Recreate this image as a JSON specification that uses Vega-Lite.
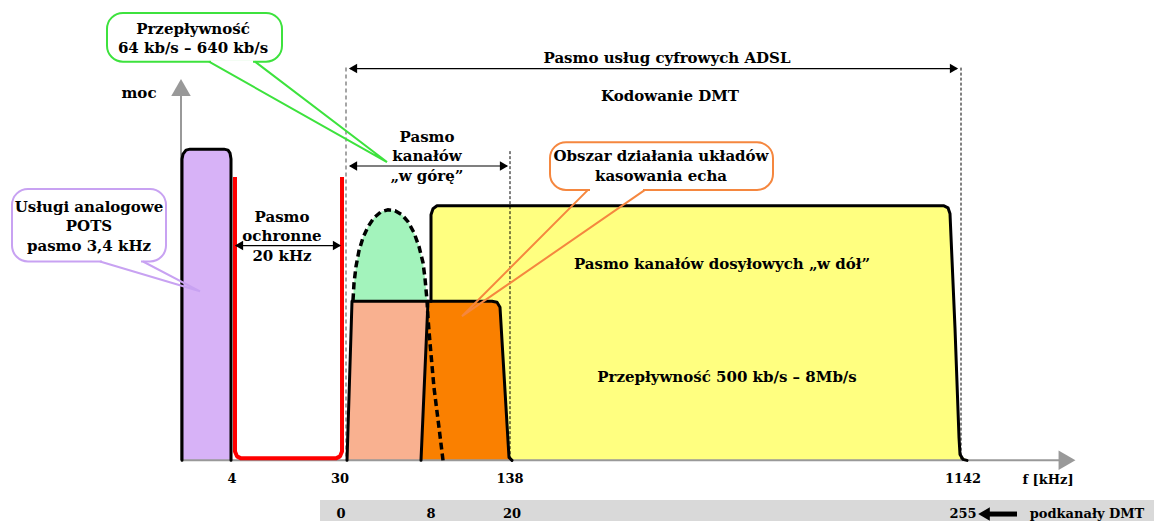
{
  "$schema": "https://vega.github.io/schema/vega-lite/v6.json",
  "width": 1154,
  "height": 524,
  "autosize": {"type": "fit", "contains": "padding"},
  "padding": 0,
  "background": "white",
  "config": {"view": {"stroke": null}},
  "datasets": {
    "areas": [
      {"s": "yellow", "x": 429, "y": 463, "y2": 463},
      {"s": "yellow", "x": 431, "y": 216, "y2": 463},
      {"s": "yellow", "x": 433, "y": 210, "y2": 463},
      {"s": "yellow", "x": 437, "y": 207, "y2": 463},
      {"s": "yellow", "x": 944, "y": 207, "y2": 463},
      {"s": "yellow", "x": 948, "y": 209, "y2": 463},
      {"s": "yellow", "x": 950, "y": 215, "y2": 463},
      {"s": "yellow", "x": 955, "y": 330, "y2": 463},
      {"s": "yellow", "x": 959, "y": 440, "y2": 463},
      {"s": "yellow", "x": 960, "y": 457, "y2": 463},
      {"s": "yellow", "x": 967, "y": 463, "y2": 463},
      {"s": "pots", "x": 182, "y": 160, "y2": 463},
      {"s": "pots", "x": 183, "y": 155, "y2": 463},
      {"s": "pots", "x": 186, "y": 151, "y2": 463},
      {"s": "pots", "x": 190, "y": 150, "y2": 463},
      {"s": "pots", "x": 224, "y": 150, "y2": 463},
      {"s": "pots", "x": 228, "y": 151, "y2": 463},
      {"s": "pots", "x": 230, "y": 154, "y2": 463},
      {"s": "pots", "x": 231, "y": 160, "y2": 463},
      {"s": "salmon", "x": 347, "y": 463, "y2": 463},
      {"s": "salmon", "x": 352, "y": 303, "y2": 463},
      {"s": "salmon", "x": 420, "y": 303, "y2": 463},
      {"s": "salmon", "x": 428, "y": 303, "y2": 303},
      {"s": "orange", "x": 421, "y": 463, "y2": 463},
      {"s": "orange", "x": 428, "y": 303, "y2": 463},
      {"s": "orange", "x": 492, "y": 303, "y2": 463},
      {"s": "orange", "x": 497, "y": 304, "y2": 463},
      {"s": "orange", "x": 500, "y": 309, "y2": 463},
      {"s": "orange", "x": 509, "y": 460, "y2": 463},
      {"s": "orange", "x": 512, "y": 463, "y2": 463},
      {"s": "dome", "x": 353, "y": 302, "y2": 302},
      {"s": "dome", "x": 354, "y": 285, "y2": 302},
      {"s": "dome", "x": 356, "y": 268, "y2": 302},
      {"s": "dome", "x": 359, "y": 252, "y2": 302},
      {"s": "dome", "x": 363, "y": 239, "y2": 302},
      {"s": "dome", "x": 368, "y": 228, "y2": 302},
      {"s": "dome", "x": 374, "y": 219, "y2": 302},
      {"s": "dome", "x": 381, "y": 213, "y2": 302},
      {"s": "dome", "x": 388, "y": 211, "y2": 302},
      {"s": "dome", "x": 395, "y": 212, "y2": 302},
      {"s": "dome", "x": 402, "y": 216, "y2": 302},
      {"s": "dome", "x": 408, "y": 223, "y2": 302},
      {"s": "dome", "x": 414, "y": 234, "y2": 302},
      {"s": "dome", "x": 419, "y": 248, "y2": 302},
      {"s": "dome", "x": 423, "y": 264, "y2": 302},
      {"s": "dome", "x": 425, "y": 280, "y2": 302},
      {"s": "dome", "x": 427, "y": 302, "y2": 302}
    ],
    "outlines": [
      {"s": "pots", "i": 1, "x": 182, "y": 463},
      {"s": "pots", "i": 2, "x": 182, "y": 160},
      {"s": "pots", "i": 3, "x": 183, "y": 155},
      {"s": "pots", "i": 4, "x": 186, "y": 151},
      {"s": "pots", "i": 5, "x": 190, "y": 150},
      {"s": "pots", "i": 6, "x": 224, "y": 150},
      {"s": "pots", "i": 7, "x": 228, "y": 151},
      {"s": "pots", "i": 8, "x": 230, "y": 154},
      {"s": "pots", "i": 9, "x": 231, "y": 160},
      {"s": "pots", "i": 10, "x": 231, "y": 463},
      {"s": "guard", "i": 1, "x": 235, "y": 178},
      {"s": "guard", "i": 2, "x": 235, "y": 454},
      {"s": "guard", "i": 3, "x": 237, "y": 459},
      {"s": "guard", "i": 4, "x": 241, "y": 461},
      {"s": "guard", "i": 5, "x": 336, "y": 461},
      {"s": "guard", "i": 6, "x": 340, "y": 459},
      {"s": "guard", "i": 7, "x": 342, "y": 454},
      {"s": "guard", "i": 8, "x": 342, "y": 178},
      {"s": "salmon", "i": 1, "x": 347, "y": 463},
      {"s": "salmon", "i": 2, "x": 352, "y": 303},
      {"s": "salmon", "i": 3, "x": 428, "y": 303},
      {"s": "salmonR", "i": 1, "x": 428, "y": 303},
      {"s": "salmonR", "i": 2, "x": 421, "y": 463},
      {"s": "orange", "i": 1, "x": 428, "y": 303},
      {"s": "orange", "i": 2, "x": 492, "y": 303},
      {"s": "orange", "i": 3, "x": 497, "y": 304},
      {"s": "orange", "i": 4, "x": 500, "y": 309},
      {"s": "orange", "i": 5, "x": 509, "y": 460},
      {"s": "orange", "i": 6, "x": 512, "y": 463},
      {"s": "yellow", "i": 1, "x": 431, "y": 303},
      {"s": "yellow", "i": 2, "x": 431, "y": 216},
      {"s": "yellow", "i": 3, "x": 433, "y": 210},
      {"s": "yellow", "i": 4, "x": 437, "y": 207},
      {"s": "yellow", "i": 5, "x": 944, "y": 207},
      {"s": "yellow", "i": 6, "x": 948, "y": 209},
      {"s": "yellow", "i": 7, "x": 950, "y": 215},
      {"s": "yellow", "i": 8, "x": 955, "y": 330},
      {"s": "yellow", "i": 9, "x": 959, "y": 440},
      {"s": "yellow", "i": 10, "x": 960, "y": 457},
      {"s": "yellow", "i": 11, "x": 963, "y": 462},
      {"s": "yellow", "i": 12, "x": 967, "y": 463},
      {"s": "dome", "i": 1, "x": 353, "y": 302},
      {"s": "dome", "i": 2, "x": 354, "y": 285},
      {"s": "dome", "i": 3, "x": 356, "y": 268},
      {"s": "dome", "i": 4, "x": 359, "y": 252},
      {"s": "dome", "i": 5, "x": 363, "y": 239},
      {"s": "dome", "i": 6, "x": 368, "y": 228},
      {"s": "dome", "i": 7, "x": 374, "y": 219},
      {"s": "dome", "i": 8, "x": 381, "y": 213},
      {"s": "dome", "i": 9, "x": 388, "y": 211},
      {"s": "dome", "i": 10, "x": 395, "y": 212},
      {"s": "dome", "i": 11, "x": 402, "y": 216},
      {"s": "dome", "i": 12, "x": 408, "y": 223},
      {"s": "dome", "i": 13, "x": 414, "y": 234},
      {"s": "dome", "i": 14, "x": 419, "y": 248},
      {"s": "dome", "i": 15, "x": 423, "y": 264},
      {"s": "dome", "i": 16, "x": 425, "y": 280},
      {"s": "dome", "i": 17, "x": 427, "y": 302},
      {"s": "dome", "i": 18, "x": 428, "y": 320},
      {"s": "dome", "i": 19, "x": 430, "y": 345},
      {"s": "dome", "i": 20, "x": 434, "y": 390},
      {"s": "dome", "i": 21, "x": 439, "y": 430},
      {"s": "dome", "i": 22, "x": 443, "y": 463},
      {"s": "yaxis", "i": 1, "x": 181, "y": 463},
      {"s": "yaxis", "i": 2, "x": 181, "y": 96},
      {"s": "xaxis", "i": 1, "x": 181, "y": 463},
      {"s": "xaxis", "i": 2, "x": 1060, "y": 463},
      {"s": "v345", "i": 1, "x": 346, "y": 68},
      {"s": "v345", "i": 2, "x": 346, "y": 463},
      {"s": "v510", "i": 1, "x": 510, "y": 152},
      {"s": "v510", "i": 2, "x": 510, "y": 463},
      {"s": "v960", "i": 1, "x": 961, "y": 68},
      {"s": "v960", "i": 2, "x": 961, "y": 463},
      {"s": "adsl", "i": 1, "x": 350, "y": 69},
      {"s": "adsl", "i": 2, "x": 957, "y": 69},
      {"s": "guardA", "i": 1, "x": 236, "y": 247},
      {"s": "guardA", "i": 2, "x": 340, "y": 247},
      {"s": "uplink", "i": 1, "x": 350, "y": 167},
      {"s": "uplink", "i": 2, "x": 507, "y": 167},
      {"s": "bandArrow", "i": 1, "x": 985, "y": 517},
      {"s": "bandArrow", "i": 2, "x": 1017, "y": 517}
    ],
    "heads": [
      {"s": "adsl", "dir": "left", "x": 353, "y": 69},
      {"s": "adsl", "dir": "right", "x": 954, "y": 69},
      {"s": "guardA", "dir": "left", "x": 239, "y": 247},
      {"s": "guardA", "dir": "right", "x": 337, "y": 247},
      {"s": "uplink", "dir": "left", "x": 353, "y": 167},
      {"s": "uplink", "dir": "right", "x": 504, "y": 167}
    ],
    "bigheads": [
      {"s": "yaxis", "dir": "up", "x": 181, "y": 88},
      {"s": "xaxis", "dir": "right", "x": 1067, "y": 463}
    ],
    "boxes": [
      {"s": "green", "x": 107, "x2": 282, "y": 13, "y2": 62},
      {"s": "purple", "x": 12, "x2": 166, "y": 190, "y2": 263},
      {"s": "orange", "x": 550, "x2": 773, "y": 143, "y2": 191}
    ],
    "gaps": [
      {"s": "green", "i": 1, "x": 211, "y": 62},
      {"s": "green", "i": 2, "x": 253, "y": 62},
      {"s": "purple", "i": 1, "x": 102, "y": 263},
      {"s": "purple", "i": 2, "x": 141, "y": 263},
      {"s": "orange", "i": 1, "x": 590, "y": 191},
      {"s": "orange", "i": 2, "x": 643, "y": 191}
    ],
    "tails": [
      {"s": "green", "i": 1, "x": 209, "y": 62},
      {"s": "green", "i": 2, "x": 387, "y": 163},
      {"s": "green", "i": 3, "x": 255, "y": 62},
      {"s": "purple", "i": 1, "x": 100, "y": 263},
      {"s": "purple", "i": 2, "x": 200, "y": 293},
      {"s": "purple", "i": 3, "x": 143, "y": 263},
      {"s": "orange", "i": 1, "x": 588, "y": 191},
      {"s": "orange", "i": 2, "x": 462, "y": 318},
      {"s": "orange", "i": 3, "x": 645, "y": 191}
    ],
    "labels": [
      {"t": "Przepływność", "x": 193, "y": 29},
      {"t": "64 kb/s – 640 kb/s", "x": 193, "y": 48},
      {"t": "Pasmo usług cyfrowych ADSL", "x": 667, "y": 58},
      {"t": "Kodowanie DMT", "x": 670, "y": 97},
      {"t": "moc", "x": 139, "y": 94},
      {"t": "Pasmo", "x": 427, "y": 138},
      {"t": "kanałów", "x": 427, "y": 157},
      {"t": "„w górę”", "x": 427, "y": 177},
      {"t": "Obszar działania układów", "x": 661, "y": 157},
      {"t": "kasowania echa", "x": 661, "y": 177},
      {"t": "Usługi analogowe", "x": 89, "y": 208},
      {"t": "POTS", "x": 89, "y": 227},
      {"t": "pasmo 3,4 kHz", "x": 89, "y": 247},
      {"t": "Pasmo", "x": 282, "y": 218},
      {"t": "ochronne", "x": 282, "y": 237},
      {"t": "20 kHz", "x": 282, "y": 257},
      {"t": "Pasmo kanałów dosyłowych „w dół”", "x": 722, "y": 266},
      {"t": "Przepływność 500 kb/s – 8Mb/s", "x": 727, "y": 379}
    ],
    "ticks": [
      {"t": "4", "x": 232, "y": 482},
      {"t": "30", "x": 340, "y": 482},
      {"t": "138", "x": 510, "y": 482},
      {"t": "1142", "x": 963, "y": 482},
      {"t": "f [kHz]", "x": 1048, "y": 483},
      {"t": "0", "x": 341, "y": 517},
      {"t": "8", "x": 431, "y": 517},
      {"t": "20", "x": 512, "y": 517},
      {"t": "255", "x": 963, "y": 517},
      {"t": "podkanały DMT", "x": 1087, "y": 517}
    ]
  },
  "layer": [
    {
      "data": {"values": [{"x": 320, "x2": 1154, "y": 503, "y2": 524}]},
      "mark": {"type": "rect", "fill": "#d9d9d9"},
      "encoding": {
        "x": {"field": "x", "type": "quantitative", "scale": {"domain": [0, 1154], "nice": false, "zero": false}, "axis": null},
        "x2": {"field": "x2"},
        "y": {"field": "y", "type": "quantitative", "scale": {"domain": [0, 524], "nice": false, "zero": false, "reverse": true}, "axis": null},
        "y2": {"field": "y2"}
      }
    },
    {
      "data": {"name": "areas"},
      "transform": [{"filter": "datum.s == 'yellow'"}],
      "mark": {"type": "area", "fill": "#ffff80", "interpolate": "linear"},
      "encoding": {
        "x": {"field": "x", "type": "quantitative", "axis": null},
        "y": {"field": "y", "type": "quantitative", "axis": null, "stack": null},
        "y2": {"field": "y2"}
      }
    },
    {
      "data": {"name": "areas"},
      "transform": [{"filter": "datum.s == 'pots'"}],
      "mark": {"type": "area", "fill": "#d7b2f7"},
      "encoding": {
        "x": {"field": "x", "type": "quantitative", "axis": null},
        "y": {"field": "y", "type": "quantitative", "axis": null, "stack": null},
        "y2": {"field": "y2"}
      }
    },
    {
      "data": {"name": "areas"},
      "transform": [{"filter": "datum.s == 'salmon'"}],
      "mark": {"type": "area", "fill": "#f9b190"},
      "encoding": {
        "x": {"field": "x", "type": "quantitative", "axis": null},
        "y": {"field": "y", "type": "quantitative", "axis": null, "stack": null},
        "y2": {"field": "y2"}
      }
    },
    {
      "data": {"name": "areas"},
      "transform": [{"filter": "datum.s == 'orange'"}],
      "mark": {"type": "area", "fill": "#fa8000"},
      "encoding": {
        "x": {"field": "x", "type": "quantitative", "axis": null},
        "y": {"field": "y", "type": "quantitative", "axis": null, "stack": null},
        "y2": {"field": "y2"}
      }
    },
    {
      "data": {"name": "areas"},
      "transform": [{"filter": "datum.s == 'dome'"}],
      "mark": {"type": "area", "fill": "#a3f3bc"},
      "encoding": {
        "x": {"field": "x", "type": "quantitative", "axis": null},
        "y": {"field": "y", "type": "quantitative", "axis": null, "stack": null},
        "y2": {"field": "y2"}
      }
    },
    {
      "data": {"name": "outlines"},
      "transform": [{"filter": "indexof(['v345'], datum.s) >= 0"}],
      "mark": {"type": "line", "stroke": "#888888", "strokeWidth": 1.5, "strokeDash": [4, 3]},
      "encoding": {
        "x": {"field": "x", "type": "quantitative", "axis": null},
        "y": {"field": "y", "type": "quantitative", "axis": null},
        "detail": {"field": "s"},
        "order": {"field": "i"}
      }
    },
    {
      "data": {"name": "outlines"},
      "transform": [{"filter": "indexof(['v510', 'v960'], datum.s) >= 0"}],
      "mark": {"type": "line", "stroke": "#000000", "strokeWidth": 1, "strokeDash": [3, 2]},
      "encoding": {
        "x": {"field": "x", "type": "quantitative", "axis": null},
        "y": {"field": "y", "type": "quantitative", "axis": null},
        "detail": {"field": "s"},
        "order": {"field": "i"}
      }
    },
    {
      "data": {"name": "outlines"},
      "transform": [{"filter": "indexof(['yaxis', 'xaxis'], datum.s) >= 0"}],
      "mark": {"type": "line", "stroke": "#999999", "strokeWidth": 2},
      "encoding": {
        "x": {"field": "x", "type": "quantitative", "axis": null},
        "y": {"field": "y", "type": "quantitative", "axis": null},
        "detail": {"field": "s"},
        "order": {"field": "i"}
      }
    },
    {
      "data": {"name": "outlines"},
      "transform": [{"filter": "indexof(['pots', 'salmon', 'salmonR', 'orange', 'yellow'], datum.s) >= 0"}],
      "mark": {"type": "line", "stroke": "#000000", "strokeWidth": 3, "strokeJoin": "round", "strokeCap": "round"},
      "encoding": {
        "x": {"field": "x", "type": "quantitative", "axis": null},
        "y": {"field": "y", "type": "quantitative", "axis": null},
        "detail": {"field": "s"},
        "order": {"field": "i"}
      }
    },
    {
      "data": {"name": "outlines"},
      "transform": [{"filter": "datum.s == 'dome'"}],
      "mark": {"type": "line", "stroke": "#000000", "strokeWidth": 3.5, "strokeDash": [7, 4]},
      "encoding": {
        "x": {"field": "x", "type": "quantitative", "axis": null},
        "y": {"field": "y", "type": "quantitative", "axis": null},
        "detail": {"field": "s"},
        "order": {"field": "i"}
      }
    },
    {
      "data": {"name": "outlines"},
      "transform": [{"filter": "datum.s == 'guard'"}],
      "mark": {"type": "line", "stroke": "#ff0000", "strokeWidth": 4, "strokeJoin": "round"},
      "encoding": {
        "x": {"field": "x", "type": "quantitative", "axis": null},
        "y": {"field": "y", "type": "quantitative", "axis": null},
        "detail": {"field": "s"},
        "order": {"field": "i"}
      }
    },
    {
      "data": {"name": "outlines"},
      "transform": [{"filter": "indexof(['adsl', 'guardA'], datum.s) >= 0"}],
      "mark": {"type": "line", "stroke": "#000000", "strokeWidth": 1.3},
      "encoding": {
        "x": {"field": "x", "type": "quantitative", "axis": null},
        "y": {"field": "y", "type": "quantitative", "axis": null},
        "detail": {"field": "s"},
        "order": {"field": "i"}
      }
    },
    {
      "data": {"name": "outlines"},
      "transform": [{"filter": "datum.s == 'uplink'"}],
      "mark": {"type": "line", "stroke": "#555555", "strokeWidth": 1.5},
      "encoding": {
        "x": {"field": "x", "type": "quantitative", "axis": null},
        "y": {"field": "y", "type": "quantitative", "axis": null},
        "detail": {"field": "s"},
        "order": {"field": "i"}
      }
    },
    {
      "data": {"name": "outlines"},
      "transform": [{"filter": "datum.s == 'bandArrow'"}],
      "mark": {"type": "line", "stroke": "#000000", "strokeWidth": 5},
      "encoding": {
        "x": {"field": "x", "type": "quantitative", "axis": null},
        "y": {"field": "y", "type": "quantitative", "axis": null},
        "detail": {"field": "s"},
        "order": {"field": "i"}
      }
    },
    {
      "data": {"values": [{"x": 984, "y": 517, "dir": "left"}]},
      "mark": {"type": "point", "filled": true, "color": "#000000", "size": 180, "opacity": 1},
      "encoding": {
        "x": {"field": "x", "type": "quantitative", "axis": null},
        "y": {"field": "y", "type": "quantitative", "axis": null},
        "shape": {"field": "dir", "type": "nominal", "scale": {"domain": ["left", "right", "up"], "range": ["triangle-left", "triangle-right", "triangle-up"]}, "legend": null}
      }
    },
    {
      "data": {"name": "heads"},
      "mark": {"type": "point", "filled": true, "color": "#000000", "size": 90, "opacity": 1},
      "encoding": {
        "x": {"field": "x", "type": "quantitative", "axis": null},
        "y": {"field": "y", "type": "quantitative", "axis": null},
        "shape": {"field": "dir", "type": "nominal", "legend": null}
      }
    },
    {
      "data": {"name": "bigheads"},
      "mark": {"type": "point", "filled": true, "color": "#999999", "size": 380, "opacity": 1},
      "encoding": {
        "x": {"field": "x", "type": "quantitative", "axis": null},
        "y": {"field": "y", "type": "quantitative", "axis": null},
        "shape": {"field": "dir", "type": "nominal", "legend": null}
      }
    },
    {
      "data": {"name": "boxes"},
      "mark": {"type": "rect", "fill": "#ffffff", "strokeWidth": 2, "cornerRadius": 16},
      "encoding": {
        "x": {"field": "x", "type": "quantitative", "axis": null},
        "x2": {"field": "x2"},
        "y": {"field": "y", "type": "quantitative", "axis": null},
        "y2": {"field": "y2"},
        "stroke": {"field": "s", "type": "nominal", "scale": {"domain": ["green", "purple", "orange"], "range": ["#3de23d", "#c8a2f2", "#f5873f"]}, "legend": null}
      }
    },
    {
      "data": {"name": "gaps"},
      "mark": {"type": "line", "stroke": "#ffffff", "strokeWidth": 3},
      "encoding": {
        "x": {"field": "x", "type": "quantitative", "axis": null},
        "y": {"field": "y", "type": "quantitative", "axis": null},
        "detail": {"field": "s"},
        "order": {"field": "i"}
      }
    },
    {
      "data": {"name": "tails"},
      "mark": {"type": "line", "strokeWidth": 2, "strokeJoin": "miter"},
      "encoding": {
        "x": {"field": "x", "type": "quantitative", "axis": null},
        "y": {"field": "y", "type": "quantitative", "axis": null},
        "stroke": {"field": "s", "type": "nominal", "legend": null},
        "detail": {"field": "s"},
        "order": {"field": "i"}
      }
    },
    {
      "data": {"name": "labels"},
      "mark": {"type": "text", "font": "DejaVu Serif", "fontWeight": "bold", "fontSize": 15, "color": "#000000", "align": "center", "baseline": "middle"},
      "encoding": {
        "x": {"field": "x", "type": "quantitative", "axis": null},
        "y": {"field": "y", "type": "quantitative", "axis": null},
        "text": {"field": "t"}
      }
    },
    {
      "data": {"name": "ticks"},
      "mark": {"type": "text", "font": "DejaVu Serif", "fontWeight": "bold", "fontSize": 13, "color": "#000000", "align": "center", "baseline": "middle"},
      "encoding": {
        "x": {"field": "x", "type": "quantitative", "axis": null},
        "y": {"field": "y", "type": "quantitative", "axis": null},
        "text": {"field": "t"}
      }
    }
  ]
}
